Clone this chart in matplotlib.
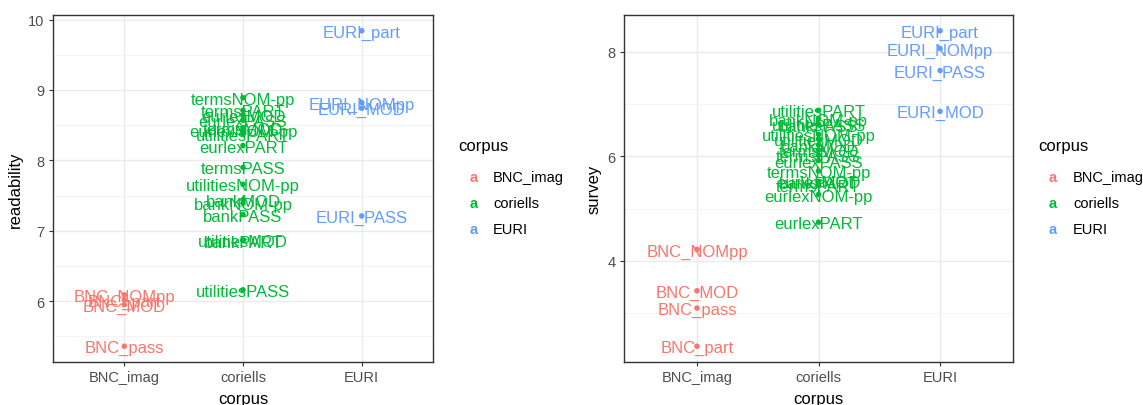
import matplotlib
matplotlib.use("Agg")
import matplotlib.pyplot as plt
from matplotlib.ticker import MultipleLocator

plt.rcParams['font.family'] = ['Liberation Sans', 'DejaVu Sans']

# corpus levels and their ggplot-style hue colours
corpus_levels = ["BNC_imag", "coriells", "EURI"]
corpus_colors = ["#F8766D", "#00BA38", "#619CFF"]

# one row per construction
item_corpus = [
    "BNC_imag", "BNC_imag", "BNC_imag", "BNC_imag",
    "coriells", "coriells", "coriells", "coriells",
    "coriells", "coriells", "coriells", "coriells",
    "coriells", "coriells", "coriells", "coriells",
    "coriells", "coriells", "coriells", "coriells",
    "EURI", "EURI", "EURI", "EURI",
]
item_label = [
    "BNC_NOMpp", "BNC_MOD", "BNC_pass", "BNC_part",
    "bankMOD", "bankNOM-pp", "bankPASS", "bankPART",
    "utilitiesPASS", "utilitiesNOM-pp", "utilitiesMOD", "utilitiesPART",
    "termsNOM-pp", "termsPASS", "termsPART", "termsMOD",
    "eurlexPART", "eurlexPASS", "eurlexNOM-pp", "eurlexMOD",
    "EURI_part", "EURI_NOMpp", "EURI_MOD", "EURI_PASS",
]
readability = [
    6.09, 5.95, 5.36, 6.02,
    7.44, 7.39, 7.23, 6.86,
    6.16, 7.66, 6.87, 8.38,
    8.89, 7.90, 8.71, 8.46,
    8.21, 8.57, 8.43, 8.64,
    9.84, 8.82, 8.74, 7.21,
]
survey = [
    4.22, 3.43, 3.10, 2.37,
    6.22, 6.72, 6.60, 5.50,
    6.62, 6.42, 6.33, 6.88,
    5.72, 6.02, 5.45, 6.12,
    4.74, 5.92, 5.27, 5.52,
    8.40, 8.06, 6.86, 7.64,
]

W, H = 1143, 406
fig = plt.figure(figsize=(W / 100, H / 100), dpi=100)


def px_axes(x0, x1, y0, y1):
    return fig.add_axes([x0 / W, 1 - y1 / H, (x1 - x0) / W, (y1 - y0) / H])


def draw_panel(ax, values, ylabel, major_step):
    pos = {c: i + 1 for i, c in enumerate(corpus_levels)}
    col = dict(zip(corpus_levels, corpus_colors))
    xs = [pos[c] for c in item_corpus]
    cs = [col[c] for c in item_corpus]
    ax.scatter(xs, values, s=16, c=cs, linewidths=0, zorder=3)
    for x, v, lab, c in zip(xs, values, item_label, cs):
        ax.text(x, v, lab, color=c, fontsize=12, ha="center",
                va="center_baseline", zorder=4)

    lo, hi = min(values), max(values)
    pad = (hi - lo) * 0.05
    ax.set_ylim(lo - pad, hi + pad)
    ax.set_xlim(0.4, 3.6)
    ax.set_xticks(range(1, len(corpus_levels) + 1), corpus_levels)
    ax.yaxis.set_major_locator(MultipleLocator(major_step))
    ax.yaxis.set_minor_locator(MultipleLocator(major_step / 2))
    ax.xaxis.set_minor_locator(plt.NullLocator())

    ax.set_axisbelow(True)
    ax.grid(which="major", color="#EBEBEB", linewidth=1.0)
    ax.grid(which="minor", axis="y", color="#F2F2F2", linewidth=0.6)
    for sp in ax.spines.values():
        sp.set_color("#333333")
        sp.set_linewidth(1.0)
    ax.tick_params(axis="both", which="major", length=3, width=0.8,
                   color="#333333", labelcolor="#4D4D4D", labelsize=10.5,
                   pad=3)
    ax.tick_params(axis="y", which="minor", length=0)
    ax.set_xlabel("corpus", fontsize=12, color="black", labelpad=5)
    ax.set_ylabel(ylabel, fontsize=12, color="black", labelpad=4)


def draw_legend(x_title, x_key, x_label):
    fig.text(x_title / W, 1 - 147 / H, "corpus", fontsize=12,
             ha="left", va="center")
    for i, (name, c) in enumerate(zip(corpus_levels, corpus_colors)):
        y = 178 + 26 * i
        fig.text(x_key / W, 1 - y / H, "a", color=c, fontsize=10.5,
                 fontweight="bold", ha="center", va="center")
        fig.text(x_label / W, 1 - y / H, name, fontsize=10.5,
                 ha="left", va="center")


ax1 = px_axes(53, 433, 16, 363)
draw_panel(ax1, readability, "readability", 1)
draw_legend(458, 474, 493)

ax2 = px_axes(624, 1013, 16, 363)
draw_panel(ax2, survey, "survey", 2)
draw_legend(1038, 1053, 1073)

fig.savefig("out.png", dpi=100)
